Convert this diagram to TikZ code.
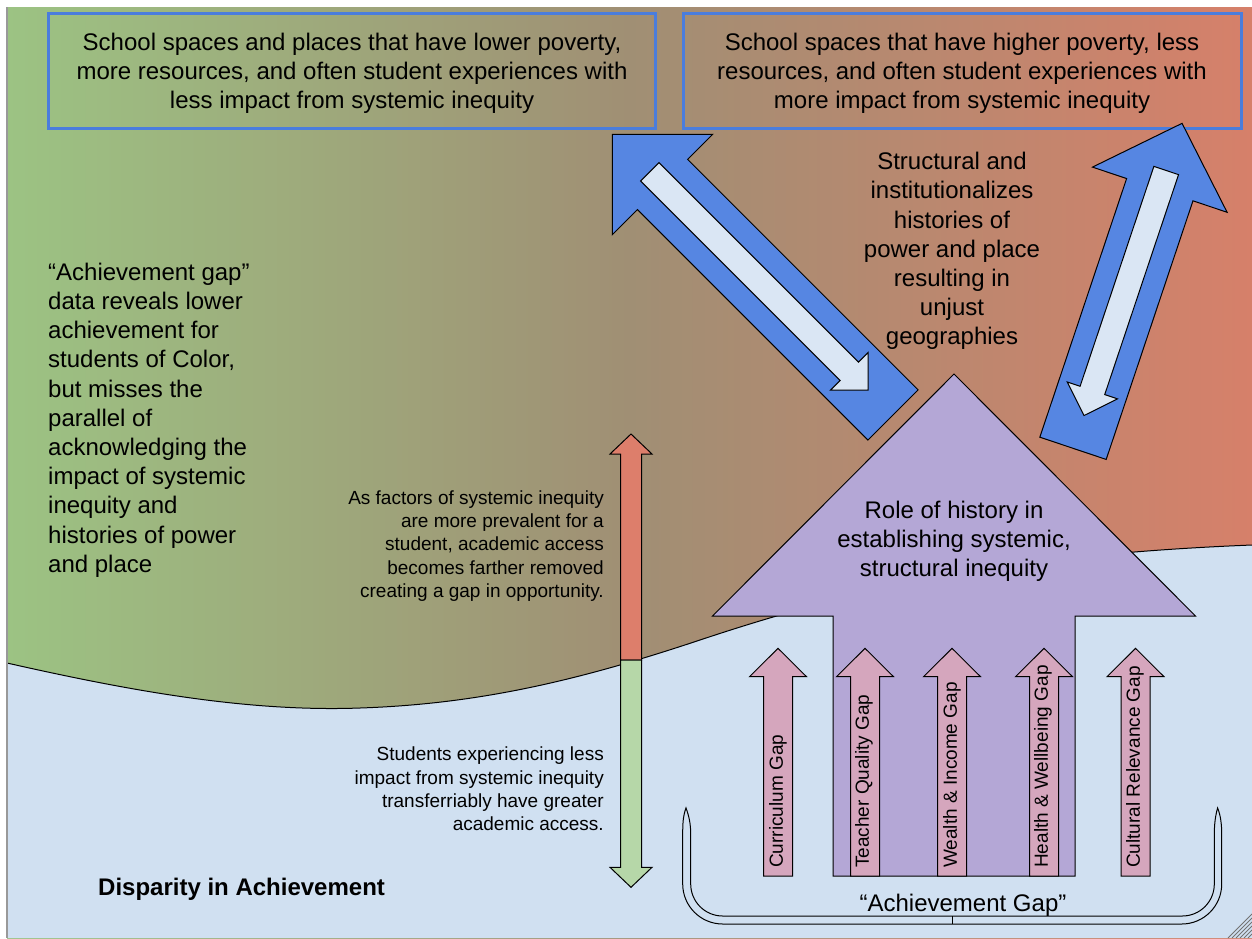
\documentclass[tikz,border=0pt]{standalone}
\usepackage{fontspec}
\setmainfont{Liberation Sans}

\definecolor{bgleft}{RGB}{156,195,131}
\definecolor{bgmid}{RGB}{160,143,116}
\definecolor{bgright}{RGB}{214,128,106}
\definecolor{lowblue}{RGB}{208,224,241}
\definecolor{boxblue}{RGB}{74,125,221}
\definecolor{arrowblue}{RGB}{86,134,226}
\definecolor{paleblue}{RGB}{218,230,244}
\definecolor{lavender}{RGB}{180,167,214}
\definecolor{pinkgap}{RGB}{213,166,189}
\definecolor{redbar}{RGB}{221,126,107}
\definecolor{greenbar}{RGB}{182,215,168}

\pgfdeclarehorizontalshading{upperbg}{100bp}{color(0bp)=(bgleft); color(25bp)=(bgleft); color(50bp)=(bgmid); color(75bp)=(bgright); color(100bp)=(bgright)}

% block arrow: #1 style, #2 tail point, #3 direction angle, #4 length,
% #5 shaft width, #6 head width, #7 head length
\newcommand{\blockarrow}[7]{%
  \begin{scope}[shift={#2}, rotate=#3]
    \path[#1] (0,-#5/2) -- ({#4-#7},-#5/2) -- ({#4-#7},-#6/2) -- (#4,0)
      -- ({#4-#7},#6/2) -- ({#4-#7},#5/2) -- (0,#5/2) -- cycle;
  \end{scope}}

\tikzset{
  txt/.style={font=\fontsize{24}{29.2}\selectfont, text=black, inner sep=0pt},
  smalltxt/.style={font=\fontsize{19}{23.3}\selectfont, text=black, inner sep=0pt},
  gaptxt/.style={font=\fontsize{19}{23}\selectfont, text=black, inner sep=0pt, rotate=90, anchor=west},
  boxframe/.style={draw=boxblue, line width=3pt},
  bluearrow/.style={fill=arrowblue, draw=black, line width=1pt, line join=miter},
  palearrow/.style={fill=paleblue, draw=black, line width=1pt, line join=miter},
  histarrow/.style={fill=lavender, draw=black, line width=1pt, line join=miter},
  gaparrow/.style={fill=pinkgap, draw=black, line width=1pt, line join=miter},
  redhalf/.style={fill=redbar, draw=black, line width=1pt, line join=miter},
  greenhalf/.style={fill=greenbar, draw=black, line width=1pt, line join=miter},
  bracket/.style={draw=black, line width=1pt},
  grip/.style={draw=black!55, line width=0.8pt}
}

\begin{document}
\begin{tikzpicture}[x=1pt, y=-1pt]
  \useasboundingbox (0,0) rectangle (1252,938);
  \fill[white] (0,0) rectangle (1252,938);

  % upper gradient backdrop
  \shade[shading=upperbg] (7,7) rectangle (1252,938);

  % lower light-blue region bounded by the wave
  \fill[lowblue] (7,663) .. controls (135,692) and (250,712) .. (360,708)
    .. controls (480,704) and (580,680) .. (700,640)
    .. controls (850,590) and (1000,555) .. (1252,545)
    -- (1252,938) -- (7,938) -- cycle;
  \draw[line width=1pt] (7,663) .. controls (135,692) and (250,712) .. (360,708)
    .. controls (480,704) and (580,680) .. (700,640)
    .. controls (850,590) and (1000,555) .. (1252,545);
  \draw[black!40, line width=1.5pt] (7,7) -- (7,938);

  % top boxes
  \draw[boxframe] (48,13) rectangle (655,128);
  \draw[boxframe] (683,13) rectangle (1241,128);
  \node[txt, align=center] (lowpov) at (352,73.5)
    {School spaces and places that have lower poverty,\\
     more resources, and often student experiences with\\
     less impact from systemic inequity};
  \node[txt, align=center] (highpov) at (962,73.5)
    {School spaces that have higher poverty, less\\
     resources, and often student experiences with\\
     more impact from systemic inequity};

  % blue two-way arrows
  \blockarrow{bluearrow}{(893,415)}{135}{397}{71}{142}{71}
  \blockarrow{palearrow}{(649.8,171.8)}{-45}{308.6}{26}{53}{26.5}
  \blockarrow{bluearrow}{(1073,448.3)}{71.45}{342.8}{70}{142}{70}
  \blockarrow{palearrow}{(1166.2,170.5)}{251.45}{258.5}{26}{53}{26.5}

  % central history arrow
  \blockarrow{histarrow}{(954,876)}{90}{502}{242}{483}{242}
  \node[txt, align=center] (history) at (954,541)
    {Role of history in\\ establishing systemic,\\ structural inequity};

  % gap arrows
  \blockarrow{gaparrow}{(778,876)}{90}{227.7}{29}{57}{28.4}
  \blockarrow{gaparrow}{(865,876)}{90}{227.7}{29}{57}{28.4}
  \blockarrow{gaparrow}{(952,876)}{90}{227.7}{29}{57}{28.4}
  \blockarrow{gaparrow}{(1044,876)}{90}{227.7}{29}{57}{28.4}
  \blockarrow{gaparrow}{(1135.5,876)}{90}{227.7}{29}{57}{28.4}
  \node[gaptxt] (curric) at (778,868) {Curriculum Gap};
  \node[gaptxt] (teacher) at (864,868) {Teacher Quality Gap};
  \node[gaptxt] (wealth) at (952,868) {Wealth \& Income Gap};
  \node[gaptxt] (health) at (1043,868) {Health \& Wellbeing Gap};
  \node[gaptxt] (cultural) at (1135,868) {Cultural Relevance Gap};

  % bracket under the gaps
  \coordinate (bl) at (686,808);
  \coordinate (br) at (1217.6,808);
  \path[bracket] (bl) .. controls (683,816) and (682.7,824) .. (682.7,834)
    -- (682.7,884) .. controls (682.7,906) and (700.6,924) .. (722.7,924)
    -- (1181.7,924) .. controls (1203.8,924) and (1221.7,906) .. (1221.7,884)
    -- (1221.7,834) .. controls (1221.7,824) and (1220.5,815) .. (br)
    .. controls (1215.5,815) and (1214.3,824) .. (1214.3,834)
    -- (1214.3,884) .. controls (1214.3,901.7) and (1200,916) .. (1182.3,916)
    -- (722.7,916) .. controls (705,916) and (690.7,901.7) .. (690.7,884)
    -- (690.7,834) .. controls (690.7,824) and (689,816) .. (bl) -- cycle;
  \coordinate (tickin) at (952.7,916);
  \coordinate (tickout) at (952.7,924);
  \draw[bracket] (tickin) -- (tickout);
  \node[txt] (achgap) at (963,905) {``Achievement Gap''};

  % red / green access arrow
  \blockarrow{redhalf}{(631,660)}{90}{226}{21}{42}{20}
  \blockarrow{greenhalf}{(631,660)}{-90}{227.3}{21}{42}{20}

  % free-standing texts
  \node[txt, align=center] (structural) at (952,251)
    {Structural and\\ institutionalizes\\ histories of\\ power and place\\ resulting in\\ unjust\\ geographies};
  \node[txt, align=left, anchor=west] (achnote) at (48,420)
    {``Achievement gap''\\ data reveals lower\\ achievement for\\ students of Color,\\ but misses the\\ parallel of\\
     acknowledging the\\ impact of systemic\\ inequity and\\ histories of power\\ and place};
  \node[smalltxt, align=right, anchor=east] (morefactors) at (604,546)
    {As factors of systemic inequity\\ are more prevalent for a\\ student, academic access\\ becomes farther removed\\ creating a gap in opportunity.};
  \node[smalltxt, align=right, anchor=east] (lessimpact) at (604,789)
    {Students experiencing less\\ impact from systemic inequity\\ transferriably have greater\\ academic access.};
  \node[txt, font=\fontsize{24}{29.2}\selectfont\bfseries, anchor=west] (disparity) at (98,889)
    {Disparity in Achievement};

  % resize grip in the corner
  \foreach \c in {2166,2170,2174,2178,2182,2186}
    \draw[grip] (\c-938,938) -- (1252,\c-1252);
\end{tikzpicture}
\end{document}
